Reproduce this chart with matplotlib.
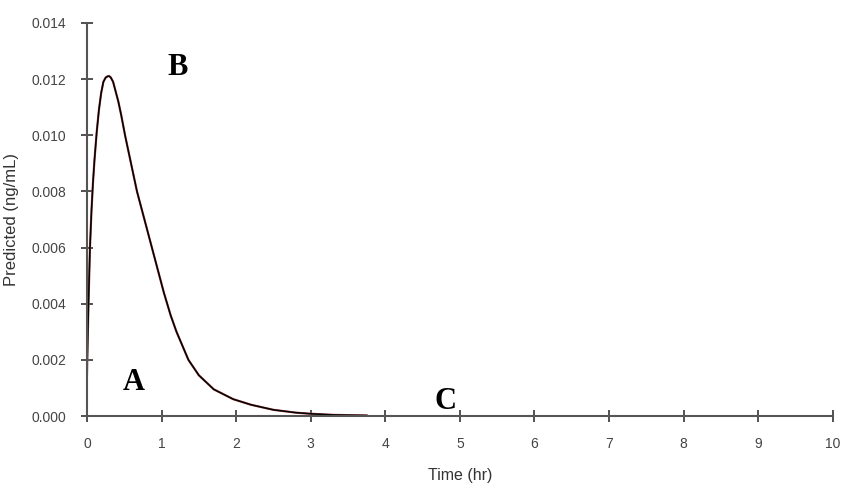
import matplotlib.pyplot as plt
from matplotlib.ticker import FormatStrFormatter

# values
time_hr = [0.0, 0.01, 0.02, 0.04, 0.06, 0.08, 0.10, 0.13, 0.16, 0.19, 0.22, 0.25, 0.28,
           0.30, 0.32, 0.35, 0.38, 0.42, 0.46, 0.51, 0.59, 0.67, 0.77, 0.87, 0.95, 1.03,
           1.12, 1.2, 1.28, 1.36, 1.5, 1.7, 1.96, 2.2, 2.5, 2.8, 3.0, 3.3, 3.75]
predicted = [0.0015, 0.0028, 0.0040, 0.0060, 0.0073, 0.0083, 0.0091, 0.0101, 0.0109,
             0.0115, 0.0119, 0.01205, 0.01210, 0.01210, 0.01205, 0.0119, 0.0116,
             0.0112, 0.0107, 0.0100, 0.0090, 0.0080, 0.0070, 0.0060, 0.0052, 0.0044,
             0.0036, 0.0030, 0.0025, 0.0020, 0.00145, 0.00095, 0.00060, 0.00040,
             0.00022, 0.00012, 0.00008, 0.00004, 0.00002]

labels = ['A', 'B', 'C']
label_x = [0.63, 1.21, 4.81]
label_y = [0.00121, 0.0124, 0.0005]

fig = plt.figure(figsize=(8.63, 4.86), dpi=100)
ax = fig.add_axes([0.1008, 0.144, 0.8642, 0.809])

ax.plot(time_hr, predicted, color='#b05050', lw=1.6)
ax.plot(time_hr, predicted, color='black', lw=1.1)

for s, x, y in zip(labels, label_x, label_y):
    ax.text(x, y, s, family='Liberation Serif', fontweight='bold', fontsize=22,
            ha='center', va='center')

ax.set_xlim(0, 10)
ax.set_ylim(0, 0.014)
ax.set_xticks(range(0, 11))
ax.set_yticks([0.000, 0.002, 0.004, 0.006, 0.008, 0.010, 0.012, 0.014])
ax.yaxis.set_major_formatter(FormatStrFormatter('%.3f'))

for side in ['top', 'right']:
    ax.spines[side].set_visible(False)
for side in ['left', 'bottom']:
    ax.spines[side].set_color('#555555')
    ax.spines[side].set_linewidth(1.5)

ax.tick_params(direction='inout', length=8, width=1.2, color='#333333',
               labelsize=10, labelcolor='#444444')
ax.tick_params(axis='x', pad=11)
ax.tick_params(axis='y', pad=11)
for lab in ax.get_xticklabels() + ax.get_yticklabels():
    lab.set_family('Liberation Sans')

ax.set_xlabel('Time (hr)', family='Liberation Sans', fontsize=11.5, color='#333333', labelpad=12)
ax.set_ylabel('Predicted (ng/mL)', family='Liberation Sans', fontsize=12, color='#333333', labelpad=9)

fig.savefig('out.png', dpi=100)
